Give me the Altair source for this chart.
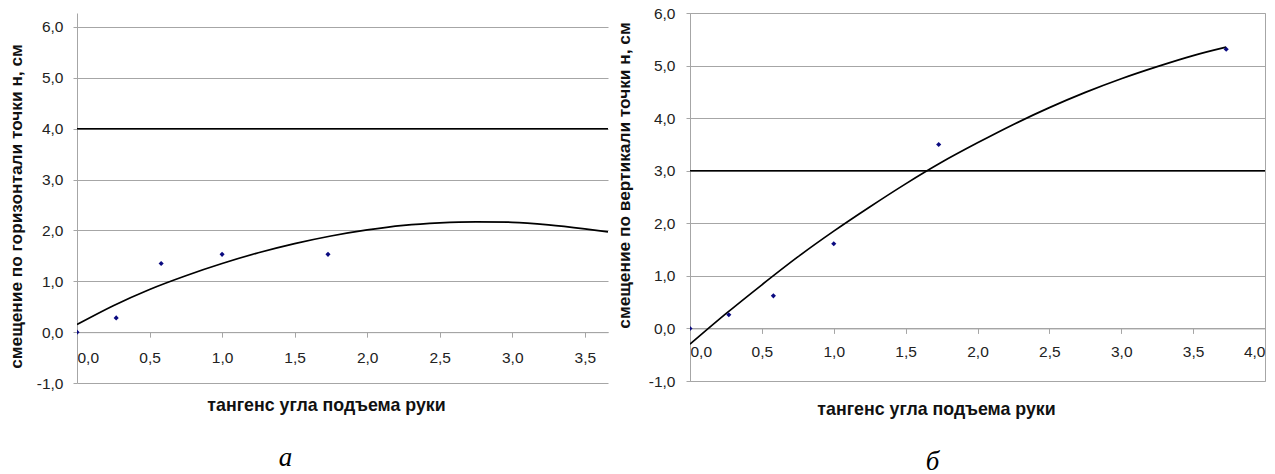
import altair as alt
import pandas as pd

# ---- data ----
# panel а: horizontal displacement
pts_x_a = [0.0, 0.27, 0.58, 1.0, 1.73]
pts_y_a = [0.0, 0.28, 1.35, 1.53, 1.53]
trend_x_a = [0.0, 0.25, 0.5, 0.75, 1.0, 1.25, 1.5, 1.75, 2.0, 2.25, 2.5, 2.75, 3.0, 3.25, 3.5, 3.66]
trend_y_a = [0.15, 0.52, 0.84, 1.11, 1.35, 1.56, 1.74, 1.89, 2.01, 2.10, 2.15, 2.17, 2.16, 2.11, 2.03, 1.97]
ref_a = [4.0]

# panel б: vertical displacement
pts_x_b = [0.0, 0.27, 0.58, 1.0, 1.73, 3.73]
pts_y_b = [0.0, 0.26, 0.62, 1.61, 3.50, 5.31]
trend_x_b = [0.0, 0.25, 0.5, 0.75, 1.0, 1.25, 1.5, 1.75, 2.0, 2.25, 2.5, 2.75, 3.0, 3.25, 3.5, 3.73]
trend_y_b = [-0.30, 0.28, 0.83, 1.36, 1.85, 2.31, 2.75, 3.16, 3.53, 3.88, 4.20, 4.49, 4.75, 4.98, 5.19, 5.35]
ref_b = [3.0]

y_ticks = [-1, 0, 1, 2, 3, 4, 5, 6]
x_ticks_a = [0, 0.5, 1.0, 1.5, 2.0, 2.5, 3.0, 3.5]
x_ticks_b = [0, 0.5, 1.0, 1.5, 2.0, 2.5, 3.0, 3.5, 4.0]

x_title = "тангенс угла подъема руки"
y_title_a = "смещение по горизонтали точки н, см"
y_title_b = "смещение по вертикали точки н, см"

FONT = "Liberation Sans"
GRID = "#a6a6a6"
LBL = "replace(replace(format(datum.value, '.1f'), '.', ','), '\u2212', '-')"


def panel(px, py, tx, ty, ref, xmax, ymax, xticks, w, h, ytitle,
          ytx, yty, xty, xtx, ylp, xlp, caption, cap_dx, stroke):
    pts = pd.DataFrame({"x": px, "y": py})
    tr = pd.DataFrame({"x": tx, "y": ty})
    rf = pd.DataFrame({"y": ref})
    xs = alt.Scale(domain=[0, xmax], nice=False, zero=False)
    ys = alt.Scale(domain=[-1, ymax], nice=False, zero=False)
    x_off = -h * 1.0 / (ymax + 1.0)

    xaxis = alt.Axis(values=xticks, labelExpr=LBL, grid=False, offset=x_off,
                     domainColor=GRID, tickColor=GRID, tickSize=5,
                     labelFont=FONT, labelFontSize=15.5, labelColor="#222",
                     labelPadding=xlp, title=x_title, titleFont=FONT,
                     titleFontSize=17.8, titleFontWeight="bold", titleColor="#111",
                     titleX=xtx, titleY=xty, titleAlign="center",
                     titleBaseline="middle")
    yaxis = alt.Axis(values=y_ticks, labelExpr=LBL, grid=True, gridColor=GRID,
                     domainColor=GRID, tickColor=GRID, tickSize=4,
                     labelFont=FONT, labelFontSize=15.5, labelColor="#222",
                     labelPadding=ylp, title=ytitle, titleFont=FONT,
                     titleFontSize=17.3, titleFontWeight="bold", titleColor="#111",
                     titleX=ytx, titleY=yty, titleBaseline="middle",
                     titleAngle=270)

    base_rule = alt.Chart(rf).mark_rule(color="#000", strokeWidth=1.6).encode(
        y=alt.Y("y:Q", scale=ys, axis=yaxis))
    line = alt.Chart(tr).mark_line(color="#000", strokeWidth=1.7,
                                   interpolate="monotone", clip=True).encode(
        x=alt.X("x:Q", scale=xs, axis=xaxis), y=alt.Y("y:Q", scale=ys))
    dots = alt.Chart(pts).mark_point(shape="diamond", filled=True, size=26,
                                     color="#0a0a80", opacity=1, clip=True).encode(
        x=alt.X("x:Q", scale=xs), y=alt.Y("y:Q", scale=ys))
    return alt.layer(base_rule, line, dots).properties(
        width=w, height=h,
        view=alt.ViewBackground(stroke=stroke),
        title=alt.TitleParams(text=caption, orient="bottom", anchor="middle",
                              frame="group", dx=cap_dx, offset=31,
                              font="Liberation Serif", fontSize=27,
                              fontStyle="italic", fontWeight="normal",
                              color="#000"))


left = panel(pts_x_a, pts_y_a, trend_x_a, trend_y_a, ref_a, 3.66, 6.275,
             x_ticks_a, 531, 370, y_title_a, -61, 193, 73, 249, 10, 13,
             "а", -57, "transparent")
right = panel(pts_x_b, pts_y_b, trend_x_b, trend_y_b, ref_b, 4.0, 6.0,
              x_ticks_b, 575, 368, y_title_b, -66, 162, 81, 246, 11, 11,
              "б", -45, GRID)

chart = alt.hconcat(left, right, spacing=4).properties(
    padding={"left": 6, "top": 5, "right": 0, "bottom": 0},
    background="white")

chart.save("out.html", embed_options={"renderer": "svg", "actions": False})
